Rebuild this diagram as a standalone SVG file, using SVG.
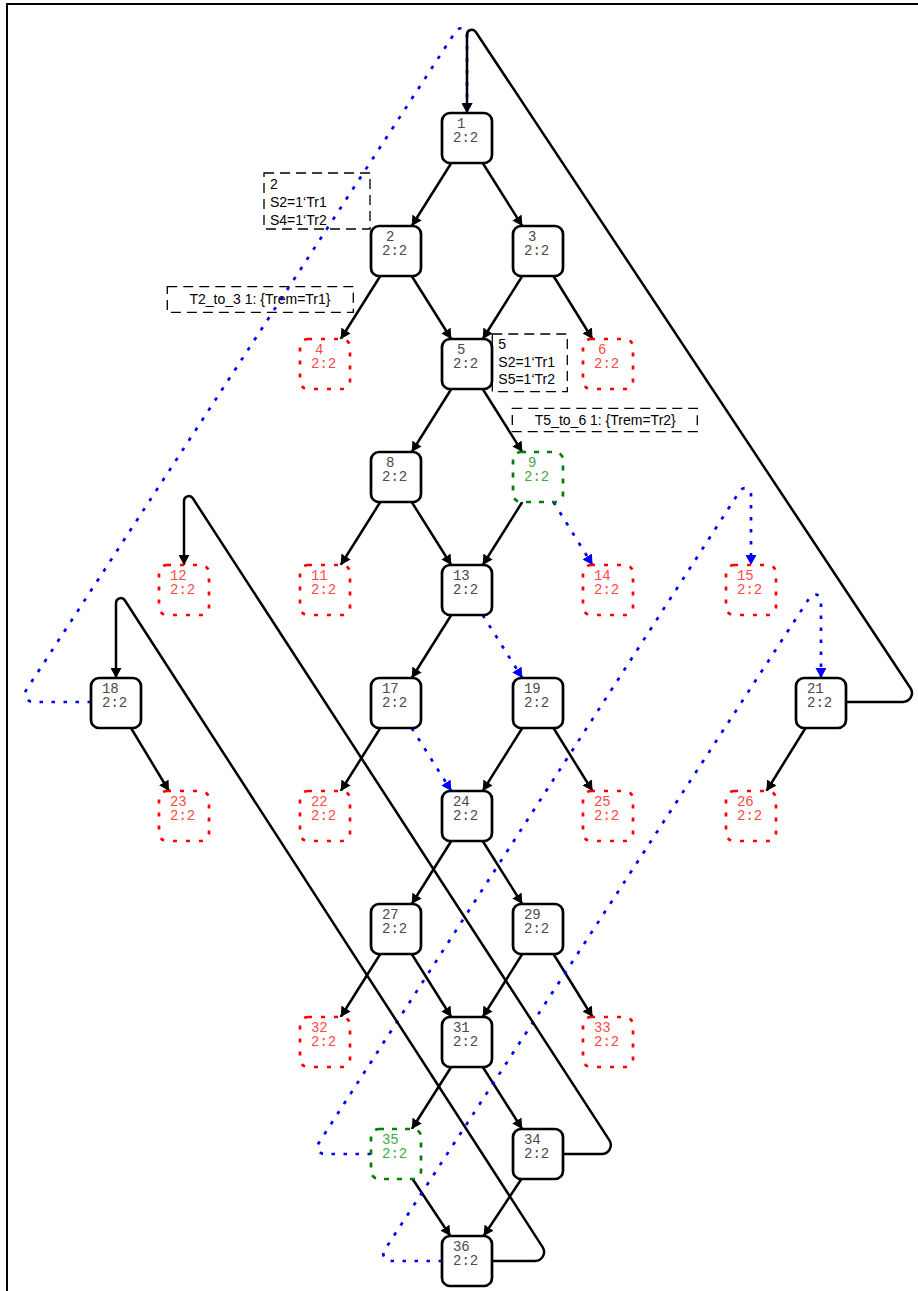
<svg xmlns="http://www.w3.org/2000/svg" width="918" height="1291" viewBox="0 0 918 1291">
<style>
.n rect{fill:#fff;stroke:#000;stroke-width:2.7}
.r rect{stroke:#f00;stroke-dasharray:4 9}
.g rect{stroke:#008000;stroke-dasharray:5 8}
.n text{font-family:"Liberation Mono","Courier New",monospace;font-size:14px;fill:#4a4a4a;text-anchor:middle}
.r text{fill:#ff4848}
.g text{fill:#40aa40}
.e{fill:none;stroke:#000;stroke-width:2.5}
.b{stroke:#00f;stroke-width:2.7;stroke-dasharray:3.5 8.5}
.lb rect{fill:none;stroke:#000;stroke-width:1.3;stroke-dasharray:10 6}
.lb text{font-family:"Liberation Sans",Arial,sans-serif;font-size:14px;fill:#000}
</style>
<defs>
<marker id="ak" markerUnits="userSpaceOnUse" markerWidth="11" markerHeight="11" refX="10" refY="5.5" orient="auto" viewBox="0 0 11 11"><path d="M0,0 L10,5.5 L0,11 Z" fill="#000"/></marker>
<marker id="au" markerUnits="userSpaceOnUse" markerWidth="11" markerHeight="11" refX="10" refY="5.5" orient="auto" viewBox="0 0 11 11"><path d="M0,0 L10,5.5 L0,11 Z" fill="#00f"/></marker>
</defs>
<path d="M7,1295 V4 H920" fill="none" stroke="#000" stroke-width="2"/>
<g id="labels" class="lb">
<g id="lbl-2"><rect x="264" y="173" width="106" height="56"/><text x="270" y="189.3">2</text><text x="270" y="207">S2=1‘Tr1</text><text x="270" y="224.5">S4=1‘Tr2</text></g>
<g id="lbl-t23"><rect x="167.3" y="286.7" width="186" height="25.6"/><text x="260" y="304" text-anchor="middle">T2_to_3 1: {Trem=Tr1}</text></g>
<g id="lbl-5"><rect x="492.3" y="334" width="75" height="57.7"/><text x="498.3" y="349.3">5</text><text x="498.3" y="366.7">S2=1‘Tr1</text><text x="498.3" y="384">S5=1‘Tr2</text></g>
<g id="lbl-t56"><rect x="512.3" y="408.3" width="185" height="23.4"/><text x="605.3" y="425" text-anchor="middle">T5_to_6 1: {Trem=Tr2}</text></g>
</g>
<g id="edges">
<path class="e" marker-end="url(#ak)" d="M451.3,163 L411.7,226"/>
<path class="e" marker-end="url(#ak)" d="M482.7,163 L522.3,226"/>
<path class="e" marker-end="url(#ak)" d="M380.3,276 L340.7,339"/>
<path class="e" marker-end="url(#ak)" d="M411.7,276 L451.3,339"/>
<path class="e" marker-end="url(#ak)" d="M522.3,276 L482.7,339"/>
<path class="e" marker-end="url(#ak)" d="M553.5,276 L592.5,339"/>
<path class="e" marker-end="url(#ak)" d="M451.3,389 L411.7,452"/>
<path class="e" marker-end="url(#ak)" d="M482.7,389 L522.3,452"/>
<path class="e" marker-end="url(#ak)" d="M380.3,502 L340.7,565"/>
<path class="e" marker-end="url(#ak)" d="M411.7,502 L451.3,565"/>
<path class="e" marker-end="url(#ak)" d="M522.3,502 L482.7,565"/>
<path class="e b" marker-end="url(#au)" d="M553.5,502 L592.5,565"/>
<path class="e" marker-end="url(#ak)" d="M451.3,615 L411.7,678"/>
<path class="e b" marker-end="url(#au)" d="M482.7,615 L522.3,678"/>
<path class="e" marker-end="url(#ak)" d="M380.3,728 L340.7,791"/>
<path class="e b" marker-end="url(#au)" d="M411.7,728 L451.3,791"/>
<path class="e" marker-end="url(#ak)" d="M522.3,728 L482.7,791"/>
<path class="e" marker-end="url(#ak)" d="M553.5,728 L592.5,791"/>
<path class="e" marker-end="url(#ak)" d="M131,728 L169,791"/>
<path class="e" marker-end="url(#ak)" d="M805.5,728 L766.5,791"/>
<path class="e" marker-end="url(#ak)" d="M451.3,841 L411.7,904"/>
<path class="e" marker-end="url(#ak)" d="M482.7,841 L522.3,904"/>
<path class="e" marker-end="url(#ak)" d="M380.3,954 L340.7,1017"/>
<path class="e" marker-end="url(#ak)" d="M411.7,954 L451.3,1017"/>
<path class="e" marker-end="url(#ak)" d="M522.3,954 L482.7,1017"/>
<path class="e" marker-end="url(#ak)" d="M553.5,954 L592.5,1017"/>
<path class="e" marker-end="url(#ak)" d="M451.2,1067 L411.8,1129"/>
<path class="e" marker-end="url(#ak)" d="M482.8,1067 L522.2,1129"/>
<path class="e" marker-end="url(#ak)" d="M412.6,1179 L450.4,1236"/>
<path class="e" marker-end="url(#ak)" d="M521.4,1179 L483.6,1236"/>
<path class="e b" marker-end="url(#au)" d="M91,702 L33,702 A8 8 0 0 1 26.3,689.8 L455.9,31.1 A6 6 0 0 1 467,34.4 L467,113"/>
<path class="e b" marker-end="url(#au)" d="M371,1154 L324.5,1154 A7 7 0 0 1 318.6,1143.2 L739.9,490.9 A6 6 0 0 1 751,494.2 L751,565"/>
<path class="e b" marker-end="url(#au)" d="M442,1261 L390.4,1261 A7 7 0 0 1 384.5,1250.2 L810,597.1 A6 6 0 0 1 821,600.4 L821,678"/>
<path class="e" marker-end="url(#ak)" d="M847,702 L903,702 A9 9 0 0 0 910.4,688 L475.8,32 A4.8 4.8 0 0 0 467,34.7 L467,113"/>
<path class="e" marker-end="url(#ak)" d="M563,1154 L601.7,1154 A9 9 0 0 0 609.3,1140.1 L192.8,498.3 A4.8 4.8 0 0 0 184,500.9 L184,565"/>
<path class="e" marker-end="url(#ak)" d="M492,1261 L535.1,1261 A9 9 0 0 0 542.6,1247.1 L124.8,600.3 A4.8 4.8 0 0 0 116,602.9 L116,678"/>
</g>
<g id="node-1" class="n"><rect x="442" y="113" width="50" height="50" rx="8"/><text x="461.3" y="128">1</text><text x="465.6" y="142">2:2</text></g>
<g id="node-2" class="n"><rect x="371" y="226" width="50" height="50" rx="8"/><text x="390.3" y="241">2</text><text x="394.6" y="255">2:2</text></g>
<g id="node-3" class="n"><rect x="513" y="226" width="50" height="50" rx="8"/><text x="532.3" y="241">3</text><text x="536.6" y="255">2:2</text></g>
<g id="node-4" class="n r"><rect x="300" y="339" width="50" height="50" rx="8"/><text x="319.3" y="354">4</text><text x="323.6" y="368">2:2</text></g>
<g id="node-5" class="n"><rect x="442" y="339" width="50" height="50" rx="8"/><text x="461.3" y="354">5</text><text x="465.6" y="368">2:2</text></g>
<g id="node-6" class="n r"><rect x="583" y="339" width="50" height="50" rx="8"/><text x="602.3" y="354">6</text><text x="606.6" y="368">2:2</text></g>
<g id="node-8" class="n"><rect x="371" y="452" width="50" height="50" rx="8"/><text x="390.3" y="467">8</text><text x="394.6" y="481">2:2</text></g>
<g id="node-9" class="n g"><rect x="513" y="452" width="50" height="50" rx="8"/><text x="532.3" y="467">9</text><text x="536.6" y="481">2:2</text></g>
<g id="node-11" class="n r"><rect x="300" y="565" width="50" height="50" rx="8"/><text x="319.3" y="580">11</text><text x="323.6" y="594">2:2</text></g>
<g id="node-12" class="n r"><rect x="159" y="565" width="50" height="50" rx="8"/><text x="178.3" y="580">12</text><text x="182.6" y="594">2:2</text></g>
<g id="node-13" class="n"><rect x="442" y="565" width="50" height="50" rx="8"/><text x="461.3" y="580">13</text><text x="465.6" y="594">2:2</text></g>
<g id="node-14" class="n r"><rect x="583" y="565" width="50" height="50" rx="8"/><text x="602.3" y="580">14</text><text x="606.6" y="594">2:2</text></g>
<g id="node-15" class="n r"><rect x="726" y="565" width="50" height="50" rx="8"/><text x="745.3" y="580">15</text><text x="749.6" y="594">2:2</text></g>
<g id="node-17" class="n"><rect x="371" y="678" width="50" height="50" rx="8"/><text x="390.3" y="693">17</text><text x="394.6" y="707">2:2</text></g>
<g id="node-18" class="n"><rect x="91" y="678" width="50" height="50" rx="8"/><text x="110.3" y="693">18</text><text x="114.6" y="707">2:2</text></g>
<g id="node-19" class="n"><rect x="513" y="678" width="50" height="50" rx="8"/><text x="532.3" y="693">19</text><text x="536.6" y="707">2:2</text></g>
<g id="node-21" class="n"><rect x="796" y="678" width="50" height="50" rx="8"/><text x="815.3" y="693">21</text><text x="819.6" y="707">2:2</text></g>
<g id="node-22" class="n r"><rect x="300" y="791" width="50" height="50" rx="8"/><text x="319.3" y="806">22</text><text x="323.6" y="820">2:2</text></g>
<g id="node-23" class="n r"><rect x="159" y="791" width="50" height="50" rx="8"/><text x="178.3" y="806">23</text><text x="182.6" y="820">2:2</text></g>
<g id="node-24" class="n"><rect x="442" y="791" width="50" height="50" rx="8"/><text x="461.3" y="806">24</text><text x="465.6" y="820">2:2</text></g>
<g id="node-25" class="n r"><rect x="583" y="791" width="50" height="50" rx="8"/><text x="602.3" y="806">25</text><text x="606.6" y="820">2:2</text></g>
<g id="node-26" class="n r"><rect x="726" y="791" width="50" height="50" rx="8"/><text x="745.3" y="806">26</text><text x="749.6" y="820">2:2</text></g>
<g id="node-27" class="n"><rect x="371" y="904" width="50" height="50" rx="8"/><text x="390.3" y="919">27</text><text x="394.6" y="933">2:2</text></g>
<g id="node-29" class="n"><rect x="513" y="904" width="50" height="50" rx="8"/><text x="532.3" y="919">29</text><text x="536.6" y="933">2:2</text></g>
<g id="node-31" class="n"><rect x="442" y="1017" width="50" height="50" rx="8"/><text x="461.3" y="1032">31</text><text x="465.6" y="1046">2:2</text></g>
<g id="node-32" class="n r"><rect x="300" y="1017" width="50" height="50" rx="8"/><text x="319.3" y="1032">32</text><text x="323.6" y="1046">2:2</text></g>
<g id="node-33" class="n r"><rect x="583" y="1017" width="50" height="50" rx="8"/><text x="602.3" y="1032">33</text><text x="606.6" y="1046">2:2</text></g>
<g id="node-34" class="n"><rect x="513" y="1129" width="50" height="50" rx="8"/><text x="532.3" y="1144">34</text><text x="536.6" y="1158">2:2</text></g>
<g id="node-35" class="n g"><rect x="371" y="1129" width="50" height="50" rx="8"/><text x="390.3" y="1144">35</text><text x="394.6" y="1158">2:2</text></g>
<g id="node-36" class="n"><rect x="442" y="1236" width="50" height="50" rx="8"/><text x="461.3" y="1251">36</text><text x="465.6" y="1265">2:2</text></g>
</svg>
